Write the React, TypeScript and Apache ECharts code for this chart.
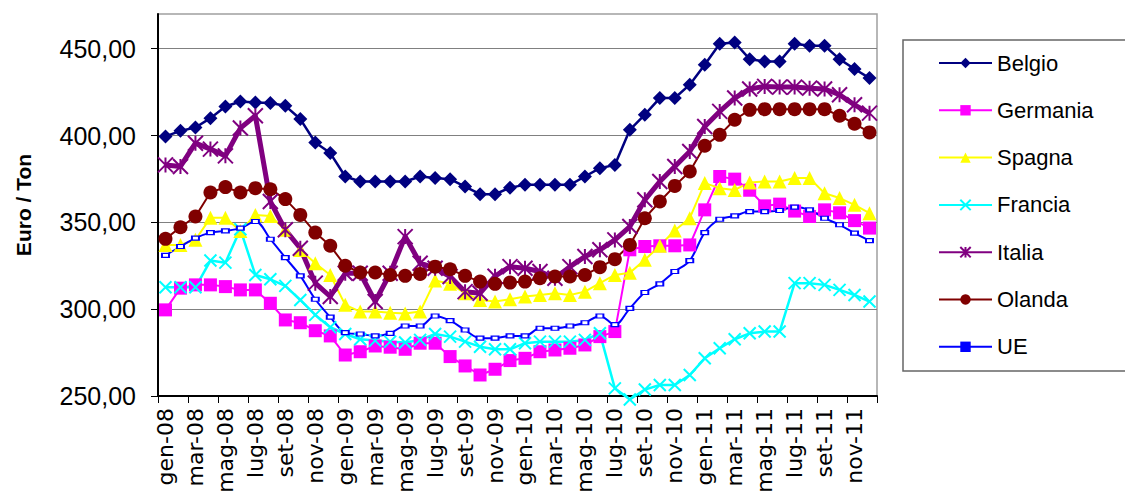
import React, { useEffect, useRef } from 'react';
import * as echarts from 'echarts';

const categories = [
  'gen-08', 'feb-08', 'mar-08', 'apr-08', 'mag-08', 'giu-08', 'lug-08', 'ago-08', 'set-08', 'ott-08', 'nov-08', 'dic-08',
  'gen-09', 'feb-09', 'mar-09', 'apr-09', 'mag-09', 'giu-09', 'lug-09', 'ago-09', 'set-09', 'ott-09', 'nov-09', 'dic-09',
  'gen-10', 'feb-10', 'mar-10', 'apr-10', 'mag-10', 'giu-10', 'lug-10', 'ago-10', 'set-10', 'ott-10', 'nov-10', 'dic-10',
  'gen-11', 'feb-11', 'mar-11', 'apr-11', 'mag-11', 'giu-11', 'lug-11', 'ago-11', 'set-11', 'ott-11', 'nov-11', 'dic-11',
];

const yTicks = [250, 300, 350, 400, 450];

const belgio = [
  399.5, 402.7, 404.6, 410, 416.7, 419.6, 419.1, 418.7, 417.1, 409.5, 396, 389.9,
  376.4, 373.5, 373.5, 373.5, 373.5, 376.4, 375.5, 374.9, 370.6, 366.2, 366.2, 370,
  371.6, 371.6, 371.6, 371.6, 376.4, 381.2, 383.1, 403.3, 412, 421.6, 421.6, 429.3,
  440.8, 452.9, 453.6, 444, 442.7, 442.7, 452.9, 451.7, 451.7, 444, 438.3, 433.1,
];
const germania = [
  299.6, 312.1, 314, 314, 313, 311.1, 311.1, 303.4, 293.8, 292.2, 287.6, 284.6,
  273.6, 275.5, 278.8, 278.1, 276.9, 280.4, 280.4, 272.7, 267.3, 262.1, 265.4, 270.4,
  271.7, 275.5, 276.5, 277.5, 279.4, 284.2, 287.1, 334.2, 336.1, 336.5, 336.5, 337,
  357.2, 376.4, 374.9, 368.5, 359.5, 360.5, 356.5, 353.4, 357.2, 355.5, 351, 346.7,
];
const spagna = [
  337, 337, 340, 352.6, 352.6, 345, 354.3, 353.7, 345.7, 334.1, 326.5, 319.7,
  302.5, 298.6, 298.6, 298, 297.5, 298.6, 316.5, 314.6, 309.2, 305.3, 304.4, 305.7,
  307.3, 308.2, 309.2, 308.2, 310.1, 315, 319.7, 321, 328.4, 336.5, 345.3, 352.4,
  372.6, 369.7, 368.7, 373, 373.5, 373.5, 375.5, 375.5, 366.8, 364, 360.1, 355.3,
];
const francia = [
  312.6, 312.6, 312.6, 328, 326.8, 346, 319.7, 317.2, 313.4, 305.3, 296.7, 289.6,
  285.7, 282.7, 281.9, 281.3, 280.8, 282.3, 285.7, 284.2, 281.3, 278.4, 276.9, 276.9,
  280.4, 281.3, 281.3, 281.3, 282.3, 286.1, 254.4, 248, 253.7, 256.3, 256.3, 262.1,
  271.7, 277.5, 282.7, 286.1, 287.1, 287.1, 315, 315, 314, 311.1, 308.2, 304.4,
];
const italia = [
  383.1, 382.2, 395.6, 392.2, 388.3, 404.3, 411.4, 362, 345.7, 335.1, 315, 307.3,
  320.7, 320.7, 304.4, 320.7, 341.8, 326.5, 323.6, 318.8, 310.1, 309.2, 319, 324.5,
  323.6, 321.7, 317.8, 324.5, 330.3, 334.2, 339.9, 347.6, 363, 373.5, 382.2, 390.8,
  405.2, 413.9, 421.6, 426.8, 428.3, 427.9, 427.9, 427.3, 426.8, 423.5, 417.7, 412.9,
];
const olanda = [
  340.5, 347.2, 353.4, 367.2, 370.3, 367.2, 369.7, 369.1, 363.4, 354.3, 344.1, 336.5,
  325, 321.1, 321.1, 319.7, 319.2, 320.3, 324.5, 323, 319.2, 315.9, 314.6, 315.3,
  315.9, 317.8, 318.8, 318.8, 319.7, 324.2, 328.8, 337, 352.4, 362, 371, 379.3,
  394.1, 400.4, 409.1, 414.8, 415.2, 415.2, 415.2, 415.2, 415.2, 411.4, 406.8, 401.8,
];
const ue = [
  331, 336.1, 340.9, 344.1, 345.1, 346.7, 350.5, 340.3, 329.7, 319.2, 305.7, 295.4,
  286.5, 285.7, 284.6, 286.1, 290.3, 290.3, 296.1, 293.4, 288, 283.3, 283.3, 284.6,
  284.6, 289, 289, 290.3, 292.2, 296.1, 291.1, 300.5, 309.6, 314.6, 321.7, 328,
  344.1, 351.8, 353.7, 356.2, 356.2, 356.8, 358.8, 357.2, 352.4, 348.6, 343.8, 339.5,
];

const FONT = '"Liberation Sans", Arial, sans-serif';

export default function App() {
  const ref = useRef<HTMLDivElement>(null);
  useEffect(() => {
    const chart = echarts.init(ref.current as HTMLDivElement, null, { renderer: 'svg' });
    const mk = (name: string, data: number[], color: string, symbol: string, symbolSize: any, lineWidth: number, itemStyle: any, extra: any = {}) => ({
      name,
      type: 'line',
      data,
      symbol,
      symbolSize,
      showAllSymbol: true,
      clip: false,
      lineStyle: { color, width: lineWidth },
      itemStyle,
      emphasis: { disabled: true },
      ...extra,
    });
    chart.setOption({
      animation: false,
      backgroundColor: '#ffffff',
      grid: {
        left: 158, top: 14, width: 719, height: 382,
        show: true, borderColor: '#a0a0a0', borderWidth: 1.5, backgroundColor: 'transparent',
      },
      xAxis: {
        type: 'category',
        data: categories,
        boundaryGap: true,
        axisLine: { show: true, lineStyle: { color: '#000', width: 2 } },
        axisTick: { show: true, interval: 1, length: 7, lineStyle: { color: '#000', width: 1 } },
        axisLabel: { interval: 1, rotate: 90, fontSize: 22, fontFamily: '"DejaVu Sans", sans-serif', color: '#000', margin: 12 },
        splitLine: { show: false },
      },
      yAxis: {
        type: 'value',
        min: 250, max: 470, interval: 50,
        axisLine: { show: true, lineStyle: { color: '#000', width: 2 } },
        axisTick: { show: true, length: 7, lineStyle: { color: '#000', width: 1 }, customValues: yTicks },
        axisLabel: {
          customValues: yTicks,
          formatter: (v: number) => (v % 50 === 0 ? v.toFixed(2).replace('.', ',') : ''),
          fontSize: 25, fontFamily: FONT, color: '#000', margin: 22,
        },
        splitLine: { show: true, lineStyle: { color: '#808080', width: 1 } },
        name: 'Euro / Ton',
        nameLocation: 'middle',
        nameRotate: 90,
        nameGap: 124,
        nameTextStyle: { fontSize: 21, fontWeight: 'bold', fontFamily: FONT, color: '#000' },
      },
      legend: {
        orient: 'vertical',
        left: 938,
        top: 52,
        padding: 0,
        itemWidth: 53,
        itemHeight: 13,
        itemGap: 25.3,
        textStyle: { fontSize: 22, fontFamily: FONT, color: '#000' },
        data: [
          'Belgio', 'Germania', 'Spagna', 'Francia', 'Italia', 'Olanda',
          { name: 'UE', itemStyle: { color: '#0000FF', borderWidth: 0 } },
        ],
      },
      graphic: [
        {
          type: 'rect',
          shape: { x: 903, y: 40, width: 300, height: 331 },
          style: { fill: 'none', stroke: '#666', lineWidth: 1.5 },
          silent: true,
        },
      ],
      series: [
        mk('Belgio', belgio, '#000080', 'diamond', 14, 2.5, { color: '#000080' }),
        mk('Germania', germania, '#FF00FF', 'rect', 13, 2, { color: '#FF00FF' }),
        mk('Spagna', spagna, '#FFFF00', 'triangle', 14, 2, { color: '#FFFF00' }),
        mk('Francia', francia, '#00FFFF', 'path://M0,0L10,10M10,0L0,10', 12, 2.5, { color: 'none', borderColor: '#00FFFF', borderWidth: 2 }),
        mk('Italia', italia, '#800080', 'path://M0,0L10,10M10,0L0,10M5,0L5,10', 15, 5, { color: 'none', borderColor: '#800080', borderWidth: 2 }),
        mk('Olanda', olanda, '#800000', 'circle', 14, 2, { color: '#800000' }),
        mk('UE', ue, '#0000FF', 'rect', [7, 4], 2, { color: '#ffffff', borderColor: '#0000FF', borderWidth: 1.5 }, { smooth: 0.35 }),
      ],
    });
    return () => chart.dispose();
  }, []);
  return (
    <div
      ref={ref}
      style={{ position: 'absolute', left: 0, top: 0, width: 1125, height: 496, background: '#fff' }}
    />
  );
}
